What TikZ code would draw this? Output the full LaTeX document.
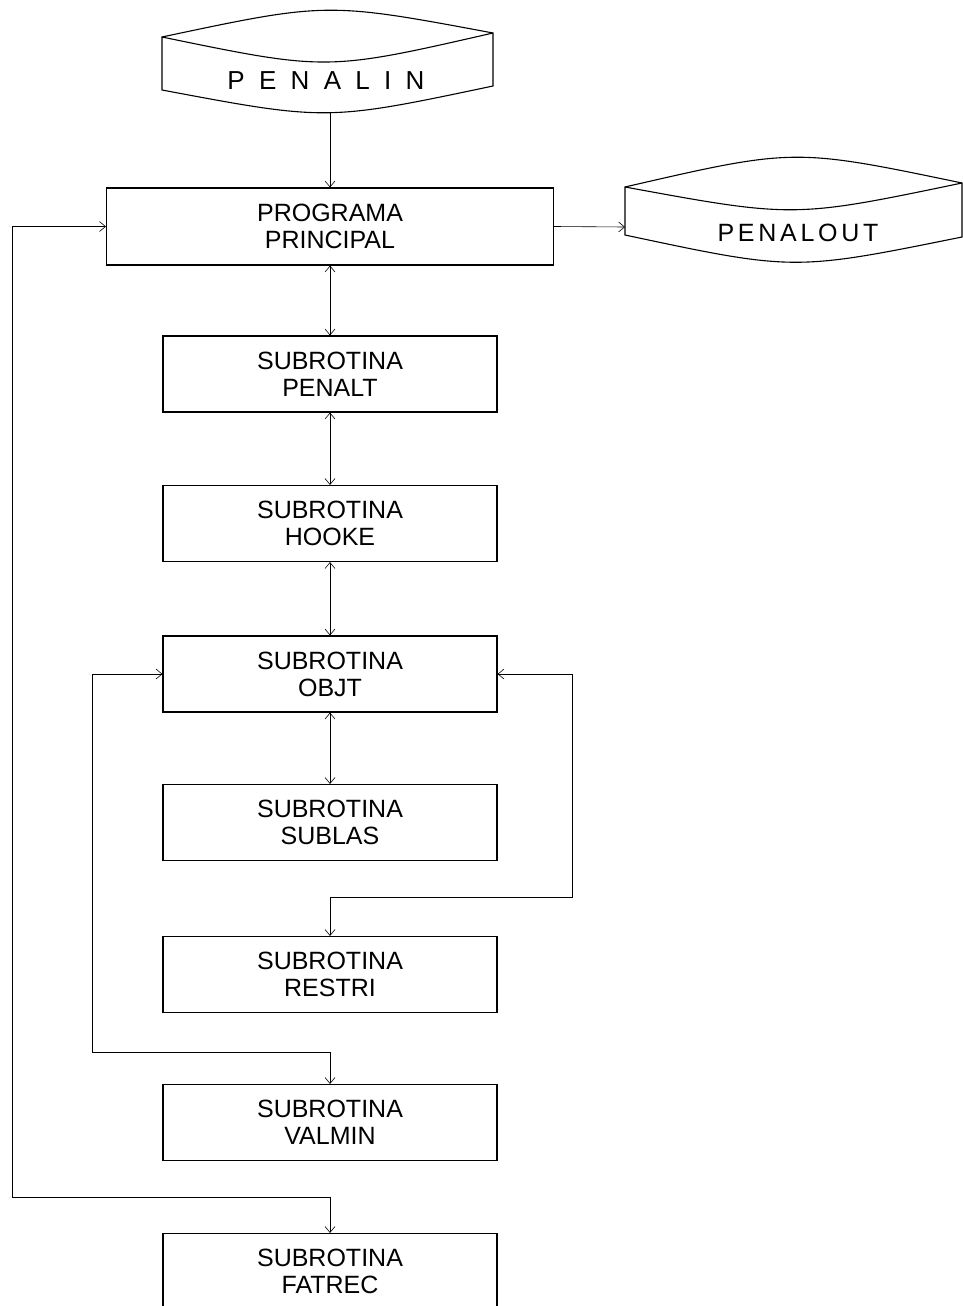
\documentclass[tikz,border=0pt]{standalone}
\usepackage{fontspec}
\setmainfont{Liberation Sans}
\usetikzlibrary{arrows.meta}

\begin{document}
\begin{tikzpicture}[x=1pt, y=-1pt,
        box/.style={draw, line width=1.1pt, minimum width=334pt, minimum height=76pt,
            inner sep=0pt, align=center, font=\fontsize{25}{27}\selectfont},
        link/.style={line width=0.6pt, >={Straight Barb[length=6pt,width=10pt]}},
        disk/.style={line width=1.1pt}]
        \useasboundingbox (0,0) rectangle (963,1306);

        % arquivos de entrada e saida
        \draw[disk] (162,37) .. controls (327,2) .. (493,33) -- (493,86)
            .. controls (327,121) .. (162,90) -- cycle;
        \draw[disk] (162,37) .. controls (327,71) .. (493,33);
        \node[font=\fontsize{26}{26}\selectfont\addfontfeature{LetterSpace=55}] (penalin) at (326,81) {PENALIN};
        \coordinate (penalin-b) at (330,112);

        \draw[disk] (625,187) .. controls (794,148) .. (962,183) -- (962,237)
            .. controls (794,271) .. (625,235) -- cycle;
        \draw[disk] (625,187) .. controls (794,218) .. (962,183);
        \node[font=\fontsize{25}{25}\selectfont\addfontfeature{LetterSpace=15}] (penalout) at (798,233) {PENALOUT};
        \coordinate (penalout-w) at (625,227);

        % programa e subrotinas
        \node[box, minimum width=447pt, minimum height=77pt] (pp) at (330,226.5) {PROGRAMA\\PRINCIPAL};
        \node[box] (penalt) at (330,374) {SUBROTINA\\PENALT};
        \node[box] (hooke) at (330,523.5) {SUBROTINA\\HOOKE};
        \node[box] (objt) at (330,674) {SUBROTINA\\OBJT};
        \node[box] (sublas) at (330,822.5) {SUBROTINA\\SUBLAS};
        \node[box] (restri) at (330,974.5) {SUBROTINA\\RESTRI};
        \node[box] (valmin) at (330,1122.5) {SUBROTINA\\VALMIN};
        \node[box] (fatrec) at (330,1271.5) {SUBROTINA\\FATREC};

        \coordinate (rloop) at (572,897);
        \coordinate (lloop) at (92,1052);
        \coordinate (oloop) at (12,1197);

        \draw[link,->] (penalin-b) -- (pp.north);
        \draw[link,->] (pp.east) -- (penalout-w);
        \draw[link,<->] (pp.south) -- (penalt.north);
        \draw[link,<->] (penalt.south) -- (hooke.north);
        \draw[link,<->] (hooke.south) -- (objt.north);
        \draw[link,<->] (objt.south) -- (sublas.north);
        \draw[link,<->] (objt.east) -| (rloop) -| (restri.north);
        \draw[link,<->] (objt.west) -| (lloop) -| (valmin.north);
        \draw[link,<->] (pp.west) -| (oloop) -| (fatrec.north);
    \end{tikzpicture}
\end{document}
